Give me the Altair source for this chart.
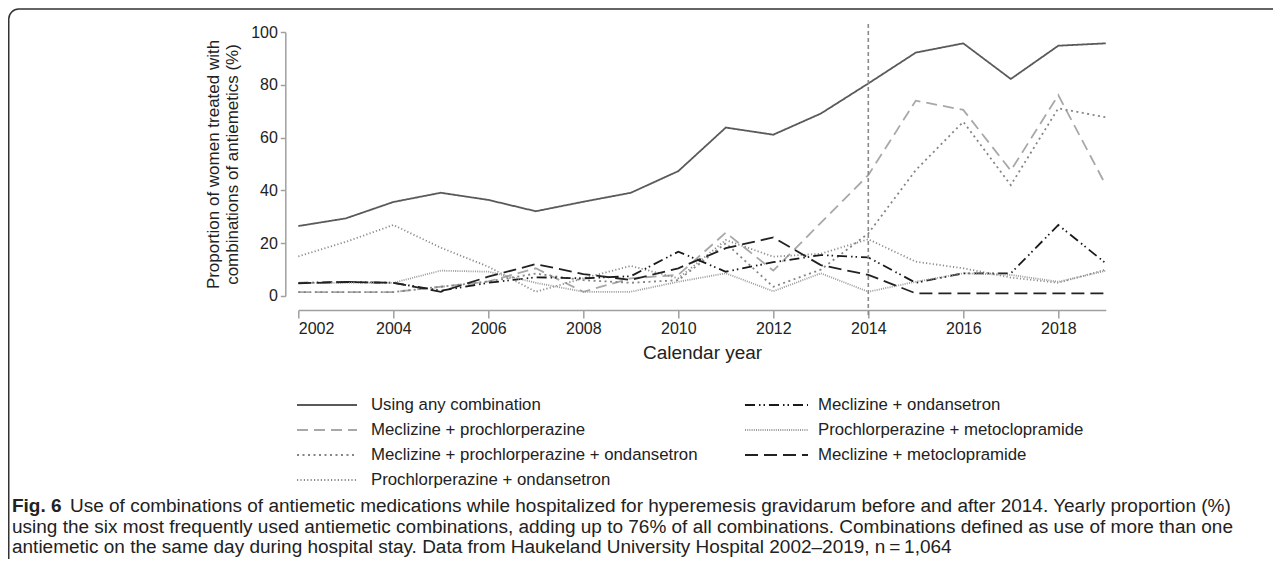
import altair as alt
import pandas as pd

years = list(range(2002, 2020))

any_combo = [26.5, 29.4, 35.6, 39.1, 36.4, 32.1, 35.7, 39.1, 47.3, 63.8, 61.1, 69.1, 80.5, 92.2, 95.7, 82.2, 94.8, 95.7]
mec_pro = [1.5, 1.5, 1.5, 3.5, 5.5, 10.5, 1.6, 6.7, 8.0, 24.0, 9.6, 27.7, 45.8, 74.0, 70.5, 47.5, 76.1, 42.0]
mec_pro_ond = [1.5, 1.5, 1.5, 3.5, 5.5, 8.5, 6.0, 5.0, 6.0, 20.0, 3.5, 10.0, 23.7, 47.7, 66.0, 42.0, 71.1, 67.7]
pro_ond = [15.0, 20.5, 26.9, 18.3, 11.1, 1.6, 6.7, 11.4, 6.7, 21.2, 14.9, 16.0, 21.5, 13.0, 10.5, 7.0, 5.0, 10.0]
mec_ond = [5.0, 5.3, 5.0, 2.0, 5.0, 7.1, 6.7, 7.5, 16.8, 9.2, 12.8, 15.5, 14.6, 5.0, 8.6, 8.6, 26.9, 12.4]
pro_meto = [5.0, 5.0, 5.0, 9.6, 9.2, 5.0, 1.6, 1.6, 5.4, 8.6, 1.8, 8.6, 1.6, 5.4, 8.6, 8.0, 5.4, 9.6]
mec_meto = [4.8, 5.3, 5.0, 1.6, 7.3, 12.1, 8.3, 6.1, 10.5, 18.1, 22.2, 11.7, 8.0, 1.0, 1.0, 1.0, 1.0, 1.0]

series_names = [
    "Using any combination",
    "Meclizine + prochlorperazine",
    "Meclizine + prochlorperazine + ondansetron",
    "Prochlorperazine + ondansetron",
    "Meclizine + ondansetron",
    "Prochlorperazine + metoclopramide",
    "Meclizine + metoclopramide",
]
series_values = [any_combo, mec_pro, mec_pro_ond, pro_ond, mec_ond, pro_meto, mec_meto]

x_ticks = list(range(2002, 2019, 2))
y_ticks = [0, 20, 40, 60, 80, 100]
policy_year = [2014]

caption_bold = "Fig. 6"
caption_lines = [
    "Use of combinations of antiemetic medications while hospitalized for hyperemesis gravidarum before and after 2014. Yearly proportion (%)",
    "using the six most frequently used antiemetic combinations, adding up to 76% of all combinations. Combinations defined as use of more than one",
    "antiemetic on the same day during hospital stay. Data from Haukeland University Hospital 2002\u20132019, n\u2009=\u20091,064",
]

# styles (same order as series_names)
colors = ["#5a5a5a", "#a8a8a8", "#858585", "#8c8c8c", "#1a1a1a", "#9a9a9a", "#222222"]
dashes = [[1, 0], [11, 6], [2, 3.5], [1.2, 2.2], [10, 4, 1.5, 3, 1.5, 4], [1, 1.2], [13, 6]]
widths = [1.8, 1.8, 1.8, 1.3, 1.9, 1.2, 2.0]

rows = []
for name, vals in zip(series_names, series_values):
    for y, v in zip(years, vals):
        rows.append({"series": name, "year": y, "value": v})
df = pd.DataFrame(rows)

FONT = "Liberation Sans"
PAD_L, PAD_T = 290.3, 24
W, H = 807.5, 264
OX, OY = 8 + PAD_L, 8 + PAD_T  # page position of plot origin

xscale = alt.Scale(domain=[2002, 2019], nice=False, zero=False)
yscale = alt.Scale(domain=[0, 100], nice=False)
cscale = alt.Scale(domain=series_names, range=colors)
dscale = alt.Scale(domain=series_names, range=dashes)
wscale = alt.Scale(domain=series_names, range=widths)

lines = alt.Chart(df).mark_line().encode(
    x=alt.X("year:Q", scale=xscale,
            axis=alt.Axis(values=x_ticks, format="d", offset=14, tickSize=8,
                          labelPadding=3, labelFontSize=16, title="Calendar year",
                          titleFontSize=19, titlePadding=7, titleFontWeight="normal")),
    y=alt.Y("value:Q", scale=yscale,
            axis=alt.Axis(values=y_ticks, offset=13, tickSize=5, labelPadding=3,
                          labelFontSize=16,
                          title=["Proportion of women treated with", "combinations of antiemetics (%)"],
                          titleFontSize=17, titlePadding=9, titleFontWeight="normal")),
    color=alt.Color("series:N", scale=cscale, legend=None),
    strokeDash=alt.StrokeDash("series:N", scale=dscale, legend=None),
    strokeWidth=alt.StrokeWidth("series:N", scale=wscale, legend=None),
    order=alt.Order("year:Q"),
)

rule = alt.Chart(pd.DataFrame({"year": policy_year})).mark_rule(
    strokeDash=[4, 3], color="#8a8a8a", strokeWidth=1.6
).encode(x=alt.X("year:Q", scale=xscale), y=alt.datum(103), y2=alt.datum(-8))

frame = alt.Chart(pd.DataFrame({"a": [0]})).mark_rect(
    fillOpacity=0, stroke="#333333", strokeWidth=1.5, cornerRadius=10
).encode(x=alt.value(0.75 - PAD_L), x2=alt.value(2000), y=alt.value(1 - PAD_T), y2=alt.value(1000))

# manual legend, two columns
legend_layers = []
col_sym_x = [297, 745]
col_sym_len = [60, 63]
col_lab_x = [371, 818]
row_y = [405, 430, 455, 480]
legend_slots = [(0, 0), (0, 1), (0, 2), (0, 3), (1, 0), (1, 1), (1, 2)]
for name, (c, r) in zip(series_names, legend_slots):
    src = pd.DataFrame({"series": [name]})
    sw = alt.Chart(src).mark_rule().encode(
        x=alt.value(col_sym_x[c] - OX), x2=alt.value(col_sym_x[c] + col_sym_len[c] - OX),
        y=alt.value(row_y[r] - OY),
        color=alt.Color("series:N", scale=cscale, legend=None),
        strokeDash=alt.StrokeDash("series:N", scale=dscale, legend=None),
        strokeWidth=alt.StrokeWidth("series:N", scale=wscale, legend=None),
    )
    lab = alt.Chart(src).mark_text(
        align="left", baseline="middle", font=FONT, fontSize=16.8, color="#222222"
    ).encode(x=alt.value(col_lab_x[c] - OX), y=alt.value(row_y[r] - OY), text="series:N")
    legend_layers += [sw, lab]


def text_layer(txt, x, y, bold=False):
    return alt.Chart(pd.DataFrame({"t": [txt]})).mark_text(
        align="left", baseline="middle", font=FONT,
        fontSize=19, fontWeight="bold" if bold else "normal", color="#222222"
    ).encode(x=alt.value(x - OX), y=alt.value(y - OY), text="t:N")


cap_y = [506, 527, 547]
captions = [
    text_layer(caption_bold, 12, cap_y[0], bold=True),
    text_layer(caption_lines[0], 70, cap_y[0]),
    text_layer(caption_lines[1], 12, cap_y[1]),
    text_layer(caption_lines[2], 12, cap_y[2]),
]

chart = alt.layer(frame, lines, rule, *legend_layers, *captions).properties(
    width=W, height=H,
    padding={"left": PAD_L, "top": PAD_T, "right": 167, "bottom": 263},
    autosize=alt.AutoSizeParams(type="none"),
).configure_view(stroke=None).configure_axis(
    grid=False, domainColor="#a0a0a0", domainWidth=1.5, tickColor="#a0a0a0", tickWidth=1.5,
    labelColor="#222222", titleColor="#222222", labelFont=FONT, titleFont=FONT,
)

chart.save("out.html", embed_options={"renderer": "svg", "actions": False})
